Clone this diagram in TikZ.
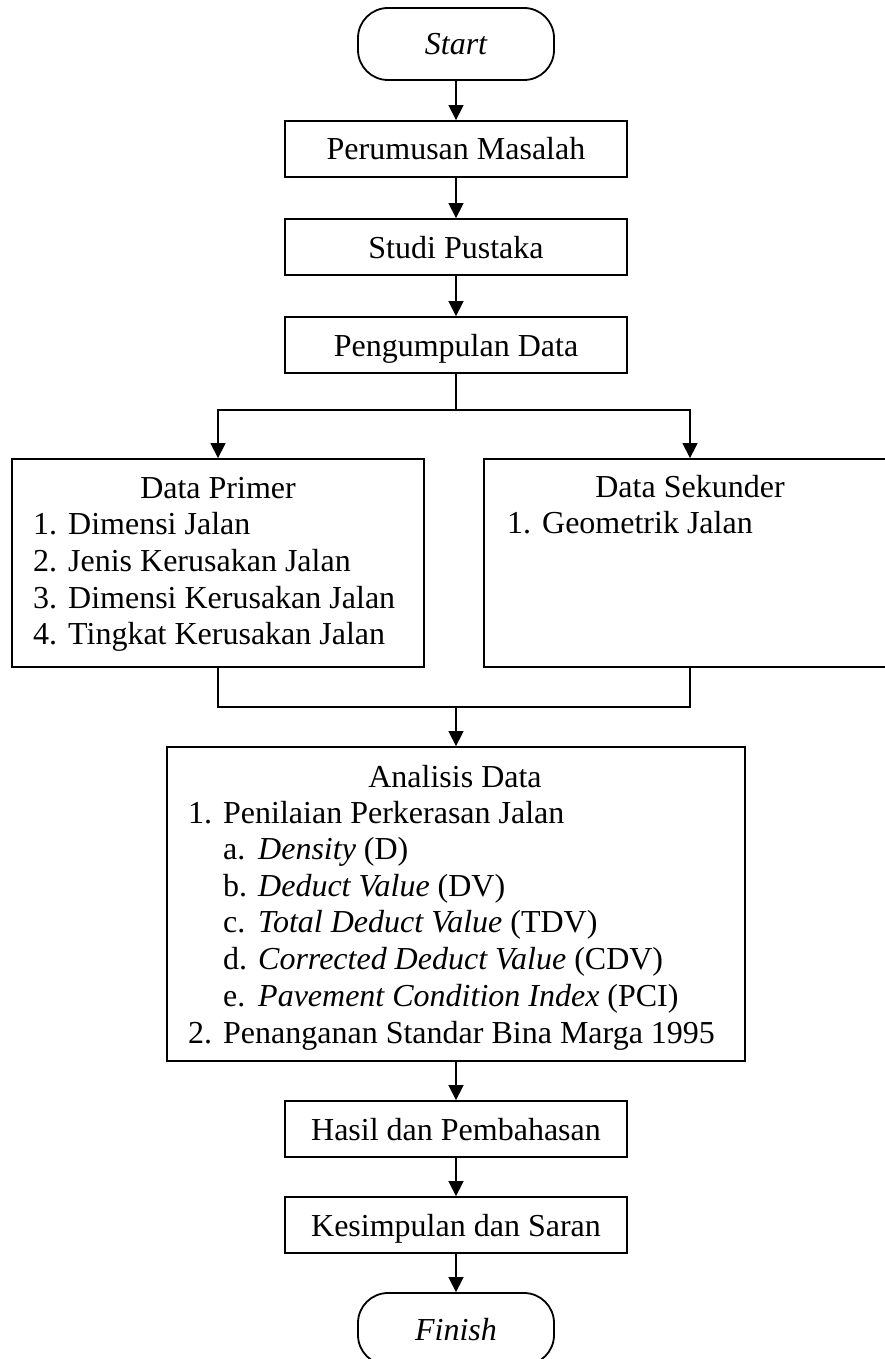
\documentclass[tikz,border=0pt]{standalone}
\usepackage{fontspec}
\setmainfont{Liberation Serif}
\usepackage{tikz}
\usetikzlibrary{positioning,calc,arrows.meta}

\begin{document}
\begin{tikzpicture}[x=1pt, y=-1pt,
		font=\fontsize{32}{36.7}\selectfont,
		box/.style={draw, line width=1.8pt, inner sep=0pt, text height=28pt, text depth=6pt},
		stepbox/.style={box, minimum width=342pt, minimum height=56pt},
		endbox/.style={box, rounded corners=30pt, minimum width=196pt, minimum height=72pt, font=\fontsize{32}{36.7}\selectfont\itshape},
		listbox/.style={draw, line width=1.8pt, inner sep=0pt},
		itemtext/.style={anchor=base west, inner sep=0pt},
		titletext/.style={anchor=base, inner sep=0pt},
		conn/.style={line width=1.4pt},
		arr/.style={conn, -{Triangle[length=15pt,width=15pt]}}]

						\useasboundingbox (0,0) rectangle (885,1359);

						\node[endbox] (start) at (456,44) {Start};
						\node[stepbox] (rumus) at (456,149) {Perumusan Masalah};
						\node[stepbox] (pustaka) at (456,247) {Studi Pustaka};
						\node[stepbox] (kumpul) at (456,345) {Pengumpulan Data};

						\node[listbox, minimum width=412pt, minimum height=208pt] (primer) at (218,563) {};
						\node[listbox, minimum width=412pt, minimum height=208pt] (sekunder) at (690,563) {};
						\node[listbox, minimum width=578pt, minimum height=314pt] (analisis) at (456,904) {};

						\node[stepbox] (hasil) at (456,1129) {Hasil dan Pembahasan};
						\node[stepbox] (simpul) at (456,1225) {Kesimpulan dan Saran};
						\node[endbox] (finish) at (456,1329) {Finish};

						\node[titletext] (primer-title) at (218,498) {Data Primer};
						\foreach \txt [count=\i] in {Dimensi Jalan, Jenis Kerusakan Jalan, Dimensi Kerusakan Jalan, Tingkat Kerusakan Jalan}
							\node[itemtext] (primer-\i) at (33,{498+36.7*\i}) {\makebox[35pt][l]{\i.}\txt};

						\node[titletext] (sekunder-title) at (690,497) {Data Sekunder};
						\node[itemtext] (sekunder-1) at (507,533) {\makebox[35pt][l]{1.}Geometrik Jalan};

						\node[titletext] (analisis-title) at (455,787) {Analisis Data};
						\node[itemtext] (analisis-1) at (188,823) {\makebox[35pt][l]{1.}Penilaian Perkerasan Jalan};
						\foreach \lbl/\txt [count=\i] in {a/\textit{Density} (D), b/\textit{Deduct Value} (DV), c/\textit{Total Deduct Value} (TDV), d/\textit{Corrected Deduct Value} (CDV), e/\textit{Pavement Condition Index} (PCI)}
							\node[itemtext] (analisis-1\lbl) at (223,{823+36.6*\i}) {\makebox[35pt][l]{\lbl.}\txt};
						\node[itemtext] (analisis-2) at (188,1043) {\makebox[35pt][l]{2.}Penanganan Standar Bina Marga 1995};

						\coordinate (split) at (456,410);
						\coordinate (join) at (456,707);

						\draw[arr] (start) -- (rumus);
						\draw[arr] (rumus) -- (pustaka);
						\draw[arr] (pustaka) -- (kumpul);

						\draw[conn] (kumpul) -- (split);
						\draw[arr] (split) -| (primer);
						\draw[arr] (split) -| (sekunder);

						\draw[conn] (primer) |- (join);
						\draw[conn] (sekunder) |- (join);
						\draw[arr] (join) -- (analisis);

						\draw[arr] (analisis) -- (hasil);
						\draw[arr] (hasil) -- (simpul);
						\draw[arr] (simpul) -- (finish);
					\end{tikzpicture}
\end{document}
